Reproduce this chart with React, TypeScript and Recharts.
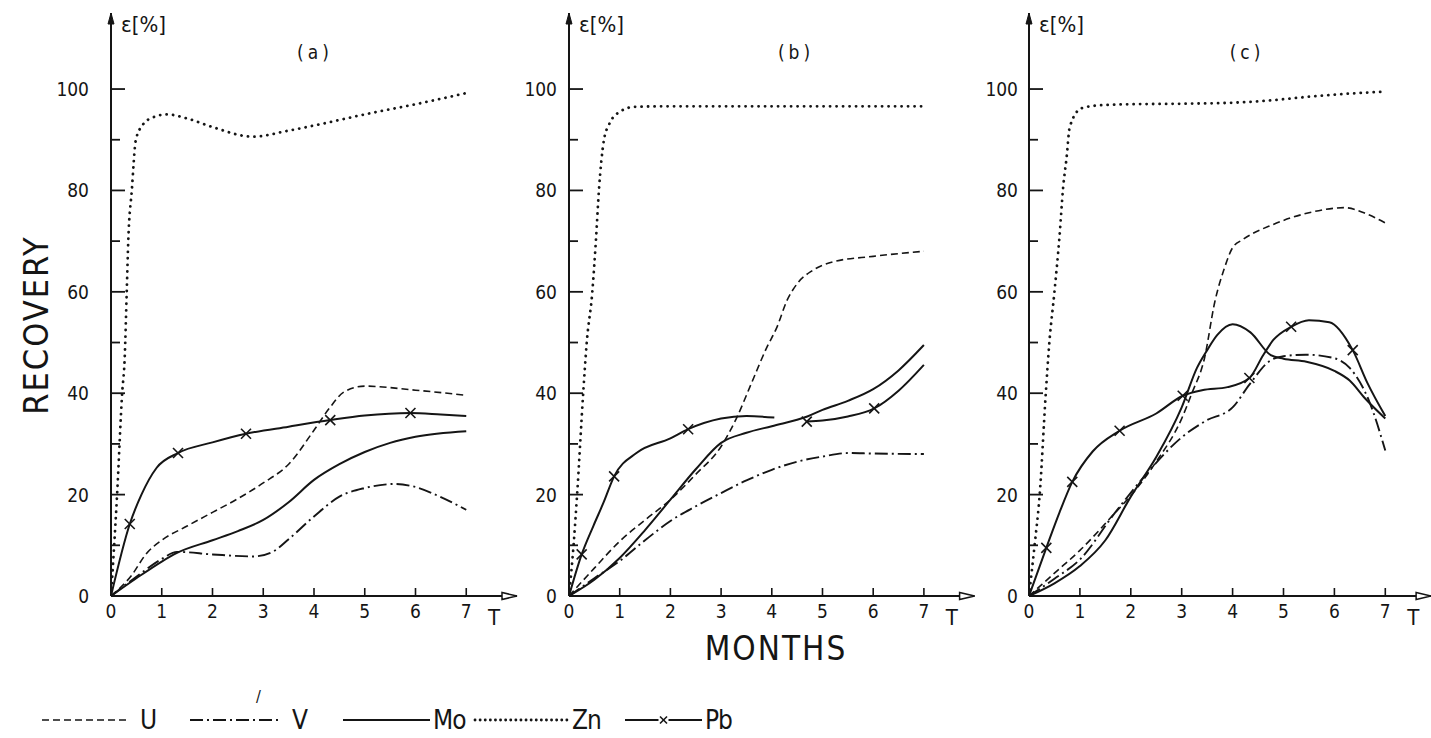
import React from "react";
import { LineChart, Line, XAxis, YAxis, ReferenceDot } from "recharts";

type Pt = [number, number | null];

const MONTH_TICKS = [0, 1, 2, 3, 4, 5, 6, 7];
const RECOVERY_TICKS = [0, 10, 20, 30, 40, 50, 60, 70, 80, 90, 100];
const METALS = ["U", "V", "Mo", "Zn", "Pb"];

// (a)
const U_A: Pt[] = [[0, 0], [0.4, 4], [0.7, 8.4], [1, 11], [1.5, 13.8], [2, 16.5], [2.5, 19.2], [3, 22.3], [3.5, 26], [4, 32.7], [4.3, 37], [4.6, 40.3], [5, 41.4], [6, 40.6], [7, 39.6]];
const V_A: Pt[] = [[0, 0], [0.5, 3.8], [1, 7.3], [1.3, 8.7], [2, 8.2], [2.8, 7.8], [3.2, 8.8], [3.5, 11.2], [4, 15.7], [4.5, 19.6], [5, 21.3], [5.6, 22.1], [6, 21.5], [6.5, 19.5], [7, 17]];
const MO_A: Pt[] = [[0, 0], [0.5, 3.5], [1, 6.8], [1.3, 8.5], [2, 11], [2.5, 12.8], [3, 15], [3.5, 18.5], [4, 22.9], [4.5, 26], [5, 28.4], [5.5, 30.2], [6, 31.4], [7, 32.5]];
const ZN_A: Pt[] = [[0, 0], [0.12, 20], [0.22, 40], [0.27, 47], [0.31, 60], [0.34, 70], [0.41, 80], [0.49, 90], [0.63, 93], [0.8, 94.3], [1.1, 95], [1.5, 94.2], [2, 92.5], [2.8, 90.6], [3.5, 91.8], [4, 92.8], [5, 95], [6, 97], [7, 99.2]];
const PB_A: Pt[] = [[0, 0], [0.37, 14.2], [0.6, 20], [0.9, 25.3], [1.32, 28.2], [2, 30.3], [2.66, 32], [3.5, 33.4], [4.32, 34.7], [5, 35.6], [5.9, 36.1], [6.5, 35.8], [7, 35.5]];
const PB_MARKS_A = [0.37, 1.32, 2.66, 4.32, 5.9];

// (b)
const U_B: Pt[] = [[0, 0], [0.5, 5.5], [1, 10.8], [1.5, 15], [2, 19], [2.5, 24], [3, 29.5], [3.3, 35], [3.6, 42], [3.9, 49], [4.1, 53], [4.3, 58.3], [4.5, 61.6], [4.8, 64.2], [5.2, 65.9], [6, 67], [7, 68]];
const V_B: Pt[] = [[0, 0], [0.5, 3.5], [1, 6.9], [1.5, 11], [2, 14.8], [2.5, 17.7], [3, 20.3], [3.5, 22.8], [4, 24.9], [4.5, 26.5], [5, 27.5], [5.5, 28.2], [6, 28.1], [7, 28]];
const MO_B: Pt[] = [[0, 0], [0.5, 3.2], [1, 7.5], [1.5, 13], [2, 19], [2.5, 25], [3, 30.2], [3.5, 32.2], [4, 33.5], [4.7, 35.4], [5, 36.7], [5.5, 38.5], [6, 40.8], [6.5, 44.5], [7, 49.5]];
const ZN_B: Pt[] = [[0, 0], [0.09, 10], [0.16, 20], [0.28, 40], [0.35, 50], [0.46, 60], [0.53, 70], [0.59, 80], [0.69, 90], [0.79, 93], [1, 95.5], [1.3, 96.5], [2, 96.6], [3, 96.6], [4, 96.6], [5, 96.6], [6, 96.6], [7, 96.6]];
const PB_B: Pt[] = [[0, 0], [0.25, 8.2], [0.48, 13.8], [0.68, 18.4], [0.89, 23.6], [1.33, 28.2], [2, 31.1], [2.35, 32.9], [3, 35], [3.5, 35.5], [4.05, 35.2], [4.4, null], [4.69, 34.4], [5, 34.6], [5.5, 35.4], [6.02, 37], [6.5, 40.5], [7, 45.6]];
const PB_MARKS_B = [0.25, 0.89, 2.35, 4.69, 6.02];

// (c)
const U_C: Pt[] = [[0, 0], [0.5, 4.5], [1, 9], [1.7, 16.5], [2, 19.8], [2.5, 26.5], [3, 35], [3.2, 40], [3.45, 47], [3.65, 58], [3.84, 64.7], [4, 68.7], [4.2, 70.3], [4.8, 73.3], [5.5, 75.6], [6.2, 76.6], [6.65, 75.3], [7, 73.6]];
const V_C: Pt[] = [[0, 0], [0.5, 3.4], [1, 7.2], [1.68, 16.3], [2.3, 24], [3, 31.3], [3.48, 34.6], [4, 37.2], [4.33, 41.7], [4.72, 46.3], [5, 47.3], [5.44, 47.6], [5.96, 47], [6.3, 45], [6.68, 38.5], [7, 28.7]];
const MO_C: Pt[] = [[0, 0], [0.5, 2.5], [1, 5.9], [1.5, 11], [2, 19.6], [2.5, 27.4], [3, 37.2], [3.3, 45], [3.5, 48.5], [3.7, 51.5], [4, 53.6], [4.35, 52], [4.75, 47.5], [5, 46.8], [5.45, 46.2], [6, 44.4], [6.3, 42.5], [6.6, 39], [7, 35]];
const ZN_C: Pt[] = [[0, 0], [0.11, 10], [0.21, 20], [0.33, 40], [0.4, 50], [0.5, 60], [0.6, 71], [0.67, 80.5], [0.74, 86.6], [0.8, 92.5], [1.03, 96.2], [1.4, 96.8], [2, 97], [3, 97.1], [4, 97.3], [5, 98], [5.5, 98.5], [6, 98.9], [7, 99.5]];
const PB_C: Pt[] = [[0, 0], [0.34, 9.5], [0.6, 16.5], [0.85, 22.5], [1.25, 28.5], [1.78, 32.6], [2.5, 36], [3.02, 39.5], [3.4, 40.6], [3.9, 41.2], [4.33, 43], [4.6, 47.5], [4.8, 50.5], [5.15, 53.1], [5.5, 54.4], [5.9, 54], [6.36, 48.5], [6.65, 42], [7, 35.5]];
const PB_MARKS_C = [0.34, 0.85, 1.78, 3.02, 4.33, 5.15, 6.36];

const FONT = "'DejaVu Sans Condensed', 'Liberation Sans Narrow', 'DejaVu Sans', sans-serif";
const INK = "#151515";

const PLOT_TOP = 13;
const PLOT_BOTTOM = 596;
const Y_AXIS_W = 60;
const X_AXIS_H = 40;

const LINE_STYLE: Record<string, { dash?: string; width: number; cap?: "round" | "butt" }> = {
  U: { dash: "7 4", width: 1.6 },
  V: { dash: "13 4 2 4", width: 1.9 },
  Mo: { width: 2 },
  Zn: { dash: "0.1 6.4", width: 2.8, cap: "round" },
  Pb: { width: 2 },
};

type PanelCfg = {
  title: string;
  titleX: number;
  x0: number;
  xMax: number;
  pxPerMonth: number;
  labelGap: number;
  series: Record<string, Pt[]>;
  marks: number[];
};

const PANELS: PanelCfg[] = [
  { title: "(a)", titleX: 315, x0: 111, xMax: 8, pxPerMonth: 50.75, labelGap: 22, series: { U: U_A, V: V_A, Mo: MO_A, Zn: ZN_A, Pb: PB_A }, marks: PB_MARKS_A },
  { title: "(b)", titleX: 796, x0: 569, xMax: 8, pxPerMonth: 50.7, labelGap: 12, series: { U: U_B, V: V_B, Mo: MO_B, Zn: ZN_B, Pb: PB_B }, marks: PB_MARKS_B },
  { title: "(c)", titleX: 1247, x0: 1029, xMax: 7.9, pxPerMonth: 50.9, labelGap: 11, series: { U: U_C, V: V_C, Mo: MO_C, Zn: ZN_C, Pb: PB_C }, marks: PB_MARKS_C },
];

const toRows = (pts: Pt[]) => pts.map(([t, v]) => ({ t, v }));

const makeYTick = (gap: number) => (props: any) => {
  const { x, y, payload } = props;
  const major = payload.value % 20 === 0;
  return (
    <g>
      {payload.value > 0 && <line x1={x} x2={x + (major ? 14 : 9)} y1={y} y2={y} stroke={INK} strokeWidth={1.8} />}
      {major && (
        <text x={x - gap} y={y} textAnchor="end" dominantBaseline="central" fontFamily={FONT} fontSize={19} fill={INK}>
          {payload.value}
        </text>
      )}
    </g>
  );
};

const XTick = (props: any) => {
  const { x, y, payload } = props;
  return (
    <g>
      {payload.value > 0 && <line x1={x} x2={x} y1={y} y2={y - 8} stroke={INK} strokeWidth={1.6} />}
      <text x={x} y={y + 22} textAnchor="middle" fontFamily={FONT} fontSize={19} fill={INK}>
        {payload.value}
      </text>
    </g>
  );
};

const ArrowRight = (p: any) => (
  <path d={`M${p.cx},${p.cy} l-15,-3.5 l0,7 z`} fill="#fff" stroke={INK} strokeWidth={1.5} />
);
const ArrowUp = (p: any) => <path d={`M${p.cx},${p.cy} l-3,11 l6,0 z`} fill={INK} stroke={INK} strokeWidth={1} />;

const Cross = (cx: number, cy: number, key: string, s = 5) => (
  <g key={key} stroke={INK} strokeWidth={1.6}>
    <line x1={cx - s} y1={cy - s} x2={cx + s} y2={cy + s} />
    <line x1={cx - s} y1={cy + s} x2={cx + s} y2={cy - s} />
  </g>
);

function Panel({ cfg }: { cfg: PanelCfg }) {
  const plotW = cfg.xMax * cfg.pxPerMonth;
  const width = Y_AXIS_W + plotW + 2;
  const height = PLOT_BOTTOM + X_AXIS_H;
  return (
    <div style={{ position: "absolute", left: cfg.x0 - Y_AXIS_W, top: 0 }}>
      <LineChart width={width} height={height} margin={{ top: PLOT_TOP, right: 2, bottom: 0, left: 0 }}>
        <XAxis
          type="number"
          dataKey="t"
          domain={[0, cfg.xMax]}
          ticks={MONTH_TICKS}
          interval={0}
          height={X_AXIS_H}
          tickSize={0}
          tickMargin={0}
          tickLine={false}
          tick={XTick}
          axisLine={{ stroke: INK, strokeWidth: 2 }}
          allowDataOverflow
        />
        <YAxis
          type="number"
          domain={[0, 115]}
          ticks={RECOVERY_TICKS}
          interval={0}
          width={Y_AXIS_W}
          tickSize={0}
          tickMargin={0}
          tickLine={false}
          tick={makeYTick(cfg.labelGap)}
          axisLine={{ stroke: INK, strokeWidth: 2 }}
          allowDataOverflow
        />
        {METALS.map((m) => {
          const st = LINE_STYLE[m];
          return (
            <Line
              key={m}
              data={toRows(cfg.series[m])}
              dataKey="v"
              name={m}
              type="monotone"
              stroke={INK}
              strokeWidth={st.width}
              strokeDasharray={st.dash}
              strokeLinecap={st.cap ?? "butt"}
              isAnimationActive={false}
              activeDot={false}
              dot={
                m === "Pb"
                  ? (p: any) =>
                      cfg.marks.includes(p.payload.t) && p.payload.v != null
                        ? Cross(p.cx, p.cy, `x-${p.index}`)
                        : <g key={`n-${p.index}`} />
                  : false
              }
            />
          );
        })}
        <ReferenceDot x={cfg.xMax} y={0} r={0} shape={ArrowRight} ifOverflow="visible" />
        <ReferenceDot x={0} y={115} r={0} shape={ArrowUp} ifOverflow="visible" />
      </LineChart>
    </div>
  );
}

const LEGEND_POS = [
  { x1: 42, x2: 130, tx: 140 },
  { x1: 190, x2: 282, tx: 292 },
  { x1: 343, x2: 430, tx: 433 },
  { x1: 475, x2: 567, tx: 572 },
  { x1: 625, x2: 702, tx: 705 },
];

function Overlay() {
  const txt = { fontFamily: FONT, fill: INK } as const;
  return (
    <svg width={1431} height={738} style={{ position: "absolute", left: 0, top: 0, pointerEvents: "none" }}>
      <text {...txt} fontSize={34} letterSpacing={2} textAnchor="middle" transform="translate(48,325) rotate(-90)">
        RECOVERY
      </text>
      <text {...txt} fontSize={33} letterSpacing={2} textAnchor="middle" x={776} y={660}>
        MONTHS
      </text>
      {PANELS.map((p) => (
        <g key={p.title}>
          <text {...txt} fontSize={19} letterSpacing={4} textAnchor="middle" x={p.titleX} y={59}>
            {p.title}
          </text>
          <text {...txt} fontSize={22} x={p.x0 + 10} y={32}>
            ε[%]
          </text>
          <text {...txt} fontSize={22} textAnchor="middle" x={p.x0 + 7.55 * p.pxPerMonth} y={625}>
            T
          </text>
        </g>
      ))}
      <text {...txt} fontSize={16} x={256} y={702}>
        /
      </text>
      {METALS.map((m, i) => {
        const st = LINE_STYLE[m];
        const pos = LEGEND_POS[i];
        const mid = (pos.x1 + pos.x2) / 2;
        return (
          <g key={m}>
            <line
              x1={pos.x1}
              x2={pos.x2}
              y1={720}
              y2={720}
              stroke={INK}
              strokeWidth={st.width}
              strokeDasharray={m === "Zn" ? "0.1 5" : st.dash}
              strokeLinecap={st.cap ?? "butt"}
            />
            {m === "Pb" && <rect x={mid - 5} y={714} width={10} height={12} fill="#fff" />}
            {m === "Pb" && Cross(mid, 720, "leg-x", 3.5)}
            <text {...txt} fontSize={26} letterSpacing={m === "Mo" || m === "Zn" || m === "Pb" ? -1 : 0} x={pos.tx} y={729}>
              {m}
            </text>
          </g>
        );
      })}
    </svg>
  );
}

export default function App() {
  return (
    <div style={{ position: "fixed", left: 0, top: 0, width: 1431, height: 738, overflow: "hidden", background: "#fff" }}>
      {PANELS.map((p) => (
        <Panel key={p.title} cfg={p} />
      ))}
      <Overlay />
    </div>
  );
}
